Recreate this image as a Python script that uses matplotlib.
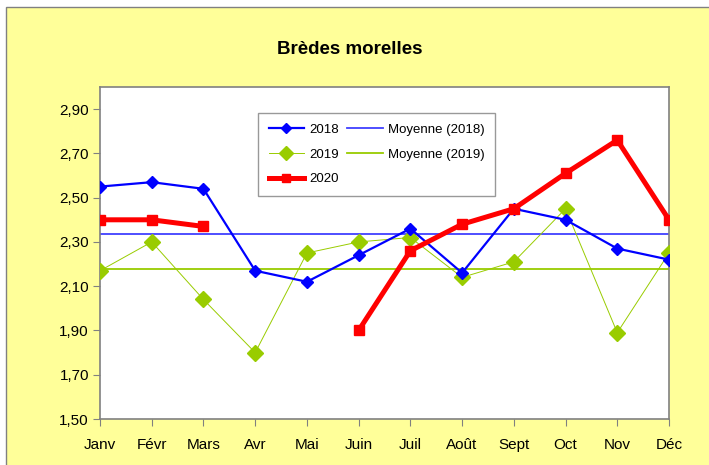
import matplotlib.pyplot as plt
import numpy as np
from matplotlib.patches import Rectangle

plt.rcParams['font.family'] = ['Liberation Sans', 'DejaVu Sans']

months = ['Janv', 'Févr', 'Mars', 'Avr', 'Mai', 'Juin', 'Juil', 'Août',
          'Sept', 'Oct', 'Nov', 'Déc']
prix_2018 = [2.55, 2.57, 2.54, 2.17, 2.12, 2.24, 2.36, 2.16, 2.45, 2.40, 2.27, 2.22]
prix_2019 = [2.17, 2.30, 2.04, 1.80, 2.25, 2.30, 2.32, 2.14, 2.21, 2.45, 1.89, 2.25]
prix_2020 = [2.40, 2.40, 2.37, np.nan, np.nan, 1.90, 2.26, 2.38, 2.45, 2.61, 2.76, 2.40]
yticks = [1.50, 1.70, 1.90, 2.10, 2.30, 2.50, 2.70, 2.90]

W, H = 709, 465
fig = plt.figure(figsize=(W / 100, H / 100), dpi=100)
fig.patch.set_facecolor('white')
# yellow chart area with grey frame
fig.patches.append(Rectangle((5.5 / W, -0.1), 1.2, 1 - 6.5 / H + 0.1,
                             transform=fig.transFigure, facecolor='#FFFF99',
                             edgecolor='#808080', linewidth=1, zorder=-5))

ax = fig.add_axes([100 / W, 1 - 419 / H, 569 / W, 332 / H])
ax.set_facecolor('white')
x = np.arange(len(months))

ax.plot(x, prix_2018, color='#0000FF', lw=1.6, marker='D', ms=6.5,
        markeredgecolor='#0000FF', label='2018', zorder=4)
ax.plot(x, prix_2019, color='#99CC00', lw=0.7, marker='D', ms=8,
        markeredgecolor='#99CC00', label='2019', zorder=3)
ax.plot(x, prix_2020, color='#FF0000', lw=3.6, marker='s', ms=7,
        label='2020', zorder=5)
ax.plot(x, [np.mean(prix_2018)] * len(x), color='#4040FF', lw=1.3,
        label='Moyenne (2018)', zorder=2)
ax.plot(x, [np.mean(prix_2019)] * len(x), color='#99CC00', lw=1.3,
        label='Moyenne (2019)', zorder=2)

ax.set_xlim(0, len(months) - 1)
ax.set_ylim(1.5, 3.0)
ax.set_xticks(x)
ax.set_xticklabels(months, fontsize=11)
ax.set_yticks(yticks)
ax.set_yticklabels([f'{v:.2f}'.replace('.', ',') for v in yticks], fontsize=11)
ax.tick_params(direction='out', length=5, color='#808080', pad=3)
ax.tick_params(axis='x', pad=9)
for s in ax.spines.values():
    s.set_color('#808080')
    s.set_linewidth(1.2)

leg = ax.legend(ncol=2, loc='upper left', bbox_to_anchor=(158 / 569, 1 - 26 / 332),
                fontsize=9.5, frameon=True, fancybox=False, edgecolor='#808080',
                handlelength=2.7, handletextpad=0.4, columnspacing=0.6,
                borderpad=0.8, labelspacing=0.95, borderaxespad=0, markerscale=0.85)
leg.get_frame().set_linewidth(1)

fig.text(350 / W, 1 - 50 / H, 'Brèdes morelles', ha='center', va='center',
         fontsize=13.5, fontweight='bold')

fig.savefig('out.png', dpi=100)
